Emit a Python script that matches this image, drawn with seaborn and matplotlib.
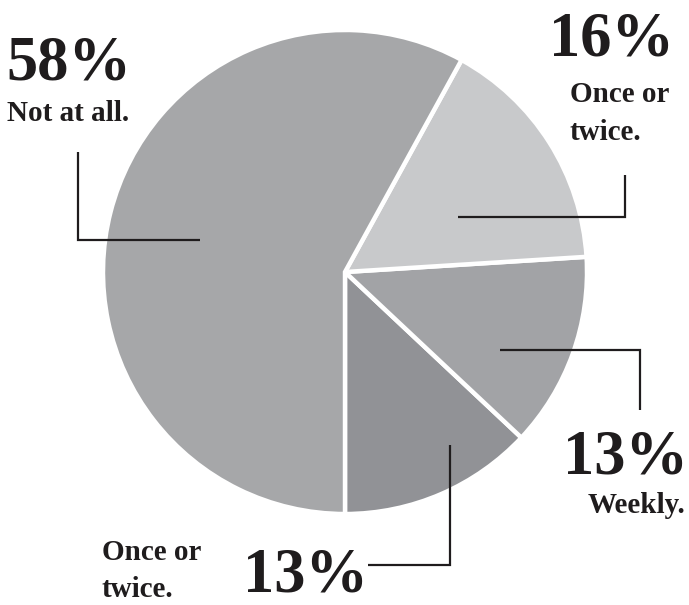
import matplotlib
matplotlib.use("Agg")
import matplotlib.pyplot as plt
import seaborn as sns

# slices, counterclockwise from the bottom
labels = ["Once or\ntwice.", "Weekly.", "Once or\ntwice.", "Not at all."]
shares = [13, 13, 16, 58]
pct_text = ["13%", "13%", "16%", "58%"]
colors = ["#919296", "#a2a3a6", "#c8c9cb", "#a6a7a9"]

sns.set_style("white")
plt.rcParams["font.family"] = ["Liberation Serif", "DejaVu Serif"]

W, H = 689, 605
fig = plt.figure(figsize=(W / 100, H / 100), dpi=100)
ax = fig.add_axes([0, 0, 1, 1])

cx, cy, r = 345, H - 272, 242
ax.pie(shares, colors=colors, startangle=-90, counterclock=True,
       center=(cx, cy), radius=r,
       wedgeprops=dict(edgecolor="white", linewidth=3.2))

ax.set_xlim(0, W)
ax.set_ylim(0, H)
ax.set_aspect("equal")
ax.axis("off")

ink = "#1f1c1d"
big = dict(fontsize=45, fontweight="bold", color=ink)
small = dict(fontsize=21, fontweight="bold", color=ink, linespacing=1.5)

def py(y):
    return H - y

# leader lines (pixel coordinates of the reference)
leaders = [
    [(450, 445), (450, 565), (368, 565)],
    [(500, 350), (640, 350), (640, 410)],
    [(458, 217), (625, 217), (625, 175)],
    [(200, 240), (78, 240), (78, 152)],
]
for pts in leaders:
    ax.plot([p[0] for p in pts], [py(p[1]) for p in pts], color=ink, lw=1.6,
            solid_capstyle="butt", solid_joinstyle="miter")

# 58% Not at all.
ax.text(69, py(80), pct_text[3], ha="center", va="baseline", **big)
ax.text(68, py(121), labels[3], ha="center", va="baseline", **small)
# 16% Once or twice.
ax.text(612, py(56), pct_text[2], ha="center", va="baseline", **big)
ax.text(570, py(140), labels[2], ha="left", va="baseline", **small)
# 13% Weekly.
ax.text(625, py(473), pct_text[1], ha="center", va="baseline", **big)
ax.text(685, py(513), labels[1], ha="right", va="baseline", **small)
# 13% Once or twice.
ax.text(306, py(592), pct_text[0], ha="center", va="baseline", **big)
ax.text(102, py(597), labels[0], ha="left", va="baseline", **small)

fig.savefig("out.png", dpi=100, facecolor="white")
